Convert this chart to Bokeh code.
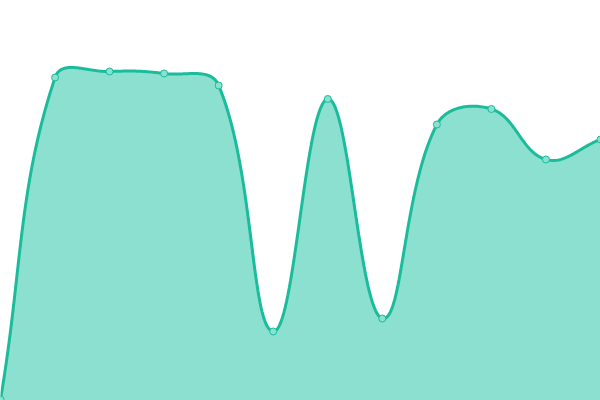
import numpy as np
from bokeh.plotting import figure
from bokeh.models import Range1d, ColumnDataSource
from bokeh.embed import file_html
from bokeh.resources import INLINE

# data
labels = list(range(12))
values = [1, 323, 329, 327, 315, 69, 301.5, 82, 276, 291.5, 241, 261]

W, H = 600, 400
YMAX = 400
TENSION = 0.4

p = figure(width=W, height=H, output_backend="svg", toolbar_location=None,
           x_range=Range1d(0, len(labels) - 1), y_range=Range1d(0, YMAX),
           min_border=0, outline_line_color=None)
p.axis.visible = False
p.grid.visible = False
p.background_fill_color = "white"
p.border_fill_color = "white"

# Chart.js-style cardinal spline smoothing of the line (rendering only)
sx = np.array(labels, dtype=float) * W / (len(labels) - 1)
sy = np.array(values, dtype=float) * H / YMAX
n = len(sx)
cp_prev = np.zeros((n, 2))
cp_next = np.zeros((n, 2))
for i in range(n):
    cur = np.array([sx[i], sy[i]])
    prv = np.array([sx[i - 1], sy[i - 1]]) if i > 0 else cur
    nxt = np.array([sx[i + 1], sy[i + 1]]) if i < n - 1 else cur
    d01 = np.hypot(*(cur - prv))
    d12 = np.hypot(*(nxt - cur))
    tot = d01 + d12
    s01 = d01 / tot if tot else 0
    s12 = d12 / tot if tot else 0
    fa = TENSION * s01
    fb = TENSION * s12
    cp_prev[i] = cur - fa * (nxt - prv)
    cp_next[i] = cur + fb * (nxt - prv)
cp_prev[:, 0] = np.clip(cp_prev[:, 0], 0, W)
cp_next[:, 0] = np.clip(cp_next[:, 0], 0, W)
cp_prev[:, 1] = np.clip(cp_prev[:, 1], 0, H)
cp_next[:, 1] = np.clip(cp_next[:, 1], 0, H)

cx, cy = [], []
t = np.linspace(0, 1, 40)
for i in range(n - 1):
    P0 = np.array([sx[i], sy[i]])
    P1 = cp_next[i]
    P2 = cp_prev[i + 1]
    P3 = np.array([sx[i + 1], sy[i + 1]])
    pts = (((1 - t) ** 3)[:, None] * P0 + (3 * (1 - t) ** 2 * t)[:, None] * P1
           + (3 * (1 - t) * t ** 2)[:, None] * P2 + (t ** 3)[:, None] * P3)
    if i > 0:
        pts = pts[1:]
    cx.extend(pts[:, 0])
    cy.extend(pts[:, 1])
cx = np.array(cx) * (len(labels) - 1) / W
cy = np.array(cy) * YMAX / H

curve = ColumnDataSource(dict(x=cx, y=cy, y0=np.zeros_like(cy)))
pts_src = ColumnDataSource(dict(x=labels, y=values))

p.varea(x="x", y1="y0", y2="y", source=curve, fill_color="#8be0cf", fill_alpha=1.0)
p.line(x="x", y="y", source=curve, line_color="#1abc9c", line_width=3)
p.scatter(x="x", y="y", source=pts_src, size=7, fill_color="#8be0cf",
          line_color="#1abc9c", line_width=1)

html = file_html(p, INLINE)
html = html.replace("<head>", "<head><style>html,body{margin:0;padding:0;overflow:hidden}</style>", 1)
open("out.html", "w").write(html)
